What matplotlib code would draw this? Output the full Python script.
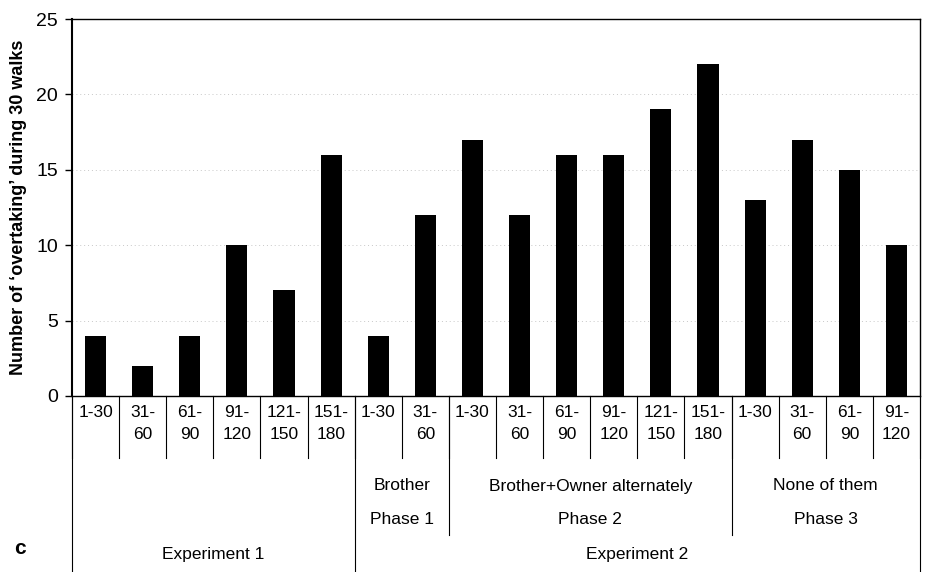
import matplotlib
matplotlib.use("Agg")
import matplotlib.pyplot as plt

plt.rcParams['font.family'] = ['Liberation Sans', 'DejaVu Sans']

# Data
tick_labels = ["1-30", "31-\n60", "61-\n90", "91-\n120", "121-\n150", "151-\n180",
               "1-30", "31-\n60",
               "1-30", "31-\n60", "61-\n90", "91-\n120", "121-\n150", "151-\n180",
               "1-30", "31-\n60", "61-\n90", "91-\n120"]
values = [4, 2, 4, 10, 7, 16,
          4, 12,
          17, 12, 16, 16, 19, 22,
          13, 17, 15, 10]
condition_labels = ["Brother", "Brother+Owner alternately", "None of them"]
phase_labels = ["Phase 1", "Phase 2", "Phase 3"]
phase_spans = [(6, 7), (8, 13), (14, 17)]
experiment_labels = ["Experiment 1", "Experiment 2"]
experiment_spans = [(0, 5), (6, 17)]

W, H = 929, 572
fig = plt.figure(figsize=(W / 100, H / 100), dpi=100)
x0, x1, ytop, ybot = 72, 920, 19, 396
ax = fig.add_axes([x0 / W, (H - ybot) / H, (x1 - x0) / W, (ybot - ytop) / H])

n = len(values)
xs = list(range(n))
ax.bar(xs, values, width=0.45, color='black', zorder=3)
ax.set_xlim(-0.5, n - 0.5)
ax.set_ylim(0, 25)
ax.set_yticks([0, 5, 10, 15, 20, 25])
ax.tick_params(axis='y', labelsize=14, length=5, width=1, direction='out', pad=5)
ax.set_xticks([])
ax.yaxis.grid(True, color='#c8c8c8', linestyle=(0, (1, 3)), linewidth=0.7, zorder=0)
for s in ax.spines.values():
    s.set_linewidth(1.0)
    s.set_color('black')
ax.spines['left'].set_linewidth(1.5)
ax.set_ylabel("Number of \u2018overtaking\u2019 during 30 walks", fontsize=13,
              fontweight='bold', labelpad=7)

# pixel -> axes y helper
hpx = ybot - ytop
def ay(py):
    return -(py - ybot) / hpx

tr = ax.get_xaxis_transform()
lc = dict(color='black', linewidth=0.8, clip_on=False, transform=tr)

# row 1 separators
for i in range(n + 1):
    b = i - 0.5
    ax.plot([b, b], [0, ay(458)], **lc)
# phase separators
for b in [7.5, 13.5]:
    ax.plot([b, b], [0, ay(535)], **lc)
# experiment separators and borders
for b in [-0.5, 5.5, n - 0.5]:
    ax.plot([b, b], [0, ay(572)], **lc)

# tick labels
for i, lab in enumerate(tick_labels):
    ax.text(i, ay(405), lab, transform=tr, ha='center', va='top', fontsize=12.5,
            linespacing=1.55)

for (a, b), c, p in zip(phase_spans, condition_labels, phase_labels):
    xc = (a + b) / 2
    ax.text(xc, ay(486), c, transform=tr, ha='center', va='center', fontsize=12.5)
    ax.text(xc, ay(519), p, transform=tr, ha='center', va='center', fontsize=12.5)

for (a, b), e in zip(experiment_spans, experiment_labels):
    xc = (a + b) / 2
    ax.text(xc, ay(555), e, transform=tr, ha='center', va='center', fontsize=12.5)

fig.text(14 / W, 1 - 548 / H, "c", fontsize=15, fontweight='bold', ha='left', va='center')

fig.savefig("out.png", dpi=100)
